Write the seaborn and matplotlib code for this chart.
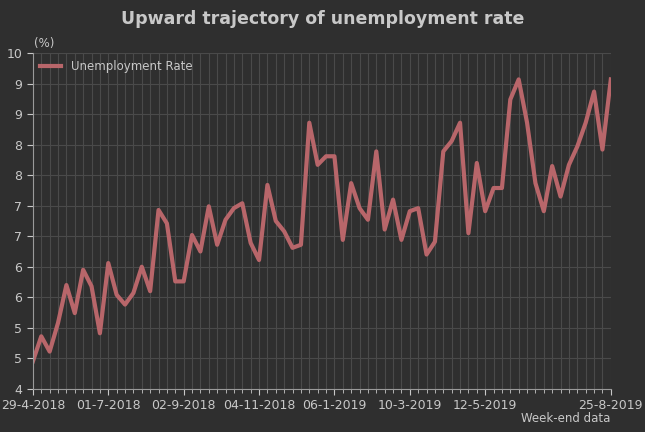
import pandas as pd
import numpy as np
import matplotlib
matplotlib.use('Agg')
import matplotlib.pyplot as plt
import seaborn as sns

# Weekly unemployment rate (%)
weeks = pd.date_range('2018-04-29', '2019-08-25', freq='7D')
rate = [4.45, 4.86, 4.61, 5.08, 5.70, 5.24, 5.95, 5.68, 4.91, 6.06,
        5.54, 5.38, 5.57, 6.00, 5.60, 6.93, 6.71, 5.76, 5.76, 6.52,
        6.25, 6.99, 6.36, 6.77, 6.96, 7.04, 6.39, 6.11, 7.34, 6.75,
        6.58, 6.31, 6.36, 8.36, 7.67, 7.81, 7.81, 6.44, 7.37, 6.96,
        6.77, 7.89, 6.61, 7.10, 6.44, 6.91, 6.96, 6.20, 6.41, 7.89,
        8.06, 8.36, 6.55, 7.70, 6.91, 7.29, 7.29, 8.74, 9.07, 8.36,
        7.37, 6.91, 7.65, 7.15, 7.67, 7.97, 8.36, 8.87, 7.92, 9.07]
label_idx = [0, 9, 18, 27, 36, 45, 54, 69]
label_txt = ['29-4-2018', '01-7-2018', '02-9-2018', '04-11-2018',
             '06-1-2019', '10-3-2019', '12-5-2019', '25-8-2019']
y_ticks = np.arange(4, 9.51, 0.5)

df = pd.DataFrame({'week': np.arange(len(rate)), 'rate': rate})

bg = '#2f2f2f'
fg = '#c8c8c8'
fig = plt.figure(figsize=(6.45, 4.32), dpi=100, facecolor=bg)
ax = fig.add_axes([0.051, 0.1, 0.896, 0.777], facecolor=bg)

sns.lineplot(data=df, x='week', y='rate', ax=ax, color='#b8666a',
             linewidth=3, label='Unemployment Rate')

ax.set_xlim(0, len(rate) - 1)
ax.set_ylim(4, 9.5)
ax.set_xticks(np.arange(len(rate)), minor=True)
ax.set_xticks(label_idx)
ax.set_xticklabels(label_txt)
ax.set_yticks(y_ticks)
ax.set_yticklabels([str(int(np.floor(v + 0.5))) for v in y_ticks])
ax.grid(True, which='both', axis='x', color='#4a4a4a', linewidth=0.8)
ax.grid(True, which='major', axis='y', color='#4a4a4a', linewidth=0.8)
ax.tick_params(colors=fg, labelsize=9, length=4)
ax.tick_params(which='minor', colors=fg, length=3)
for s in ['top', 'right']:
    ax.spines[s].set_visible(False)
for s in ['left', 'bottom']:
    ax.spines[s].set_color('#9a9a9a')
ax.set_xlabel('')
ax.set_ylabel('')

leg = ax.legend(loc='upper left', frameon=False, fontsize=8.5,
                handlelength=1.8, borderaxespad=0.2)
for t in leg.get_texts():
    t.set_color(fg)

fig.text(0.5, 0.955, 'Upward trajectory of unemployment rate', ha='center',
         va='center', color=fg, fontsize=12.5, fontweight='bold')
fig.text(0.053, 0.9, '(%)', color=fg, fontsize=8.5, va='center')
fig.text(0.947, 0.022, 'Week-end data', color=fg, fontsize=8.5, ha='right')

fig.savefig('out.png', dpi=100, facecolor=bg)
